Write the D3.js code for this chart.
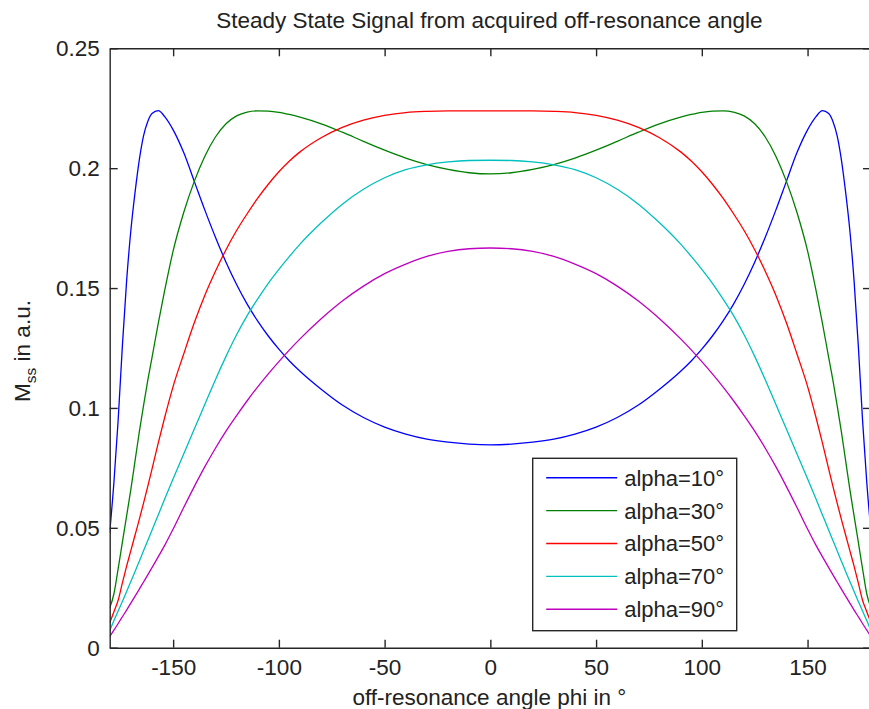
<!DOCTYPE html>
<html>
<head>
<meta charset="utf-8">
<script src="https://cdn.jsdelivr.net/npm/d3@7"></script>
<style>
  html, body { margin: 0; padding: 0; background: #fff; }
  svg { display: block; }
  text { font-family: "Liberation Sans", Arial, sans-serif; fill: #222; }
</style>
</head>
<body>
<svg id="chart" width="869" height="709"></svg>
<script>
// ---- data ----
const phi = [-180,-178,-176,-174,-172,-170,-168,-166,-164,-162,-160,-157,-154,-150,-145,-140,-135,-130,-125,-120,-115,-110,-105,-100,-95,-90,-80,-70,-60,-50,-40,-30,-20,-10,0,
             10,20,30,40,50,60,70,80,90,95,100,105,110,115,120,125,130,135,140,145,150,154,157,160,162,164,166,168,170,172,174,176,178,180];

const alpha10 = [0.048,0.069,0.095,0.126,0.153,0.174,0.190,0.2035,0.2135,0.2195,0.2228,0.2240,0.2215,0.2160,0.2065,0.1945,0.1825,0.1712,0.1608,0.1515,0.1433,0.1362,0.1300,0.1245,0.1196,0.1153,0.1078,0.1012,0.0960,0.0920,0.0891,0.0870,0.0857,0.0849,0.0846,
                 0.0849,0.0857,0.0870,0.0891,0.0920,0.0960,0.1012,0.1078,0.1153,0.1196,0.1245,0.1300,0.1362,0.1433,0.1515,0.1608,0.1712,0.1825,0.1945,0.2065,0.2160,0.2215,0.2240,0.2228,0.2195,0.2135,0.2035,0.190,0.174,0.153,0.126,0.095,0.069,0.048];

const alpha30 = [0.0165,0.0225,0.033,0.044,0.055,0.066,0.078,0.090,0.101,0.1115,0.121,0.1355,0.149,0.1655,0.1815,0.1945,0.2050,0.2130,0.2185,0.2218,0.2234,0.2239,0.2238,0.2233,0.2224,0.2213,0.2185,0.2150,0.2112,0.2075,0.2042,0.2015,0.1995,0.1981,0.1976,
                 0.1981,0.1995,0.2015,0.2042,0.2075,0.2112,0.2150,0.2185,0.2213,0.2224,0.2233,0.2238,0.2239,0.2234,0.2218,0.2185,0.2130,0.2050,0.1945,0.1815,0.1655,0.149,0.1355,0.121,0.1115,0.101,0.090,0.078,0.066,0.055,0.044,0.033,0.0225,0.0165];

const alpha50 = [0.0103,0.0150,0.0198,0.0270,0.0340,0.0405,0.0470,0.0535,0.0603,0.0673,0.0745,0.0855,0.0960,0.1090,0.1225,0.1355,0.1470,0.1570,0.1660,0.1740,0.1810,0.1875,0.1933,0.1985,0.2030,0.2068,0.2127,0.2170,0.2200,0.2220,0.2232,0.2237,0.2239,0.2239,0.2239,
                 0.2239,0.2239,0.2237,0.2232,0.2220,0.2200,0.2170,0.2127,0.2068,0.2030,0.1985,0.1933,0.1875,0.1810,0.1740,0.1660,0.1570,0.1470,0.1355,0.1225,0.1090,0.0960,0.0855,0.0745,0.0673,0.0603,0.0535,0.0470,0.0405,0.0340,0.0270,0.0198,0.0150,0.0103];

const alpha70 = [0.0070,0.0113,0.0153,0.0193,0.0234,0.0276,0.0318,0.0361,0.0404,0.0447,0.0490,0.0555,0.0620,0.0705,0.0808,0.0912,0.1015,0.1118,0.1215,0.1305,0.1385,0.1455,0.1520,0.1578,0.1632,0.1683,0.1772,0.1850,0.1912,0.1960,0.1994,0.2014,0.2026,0.2032,0.2033,
                 0.2032,0.2026,0.2014,0.1994,0.1960,0.1912,0.1850,0.1772,0.1683,0.1632,0.1578,0.1520,0.1455,0.1385,0.1305,0.1215,0.1118,0.1015,0.0912,0.0808,0.0705,0.0620,0.0555,0.0490,0.0447,0.0404,0.0361,0.0318,0.0276,0.0234,0.0193,0.0153,0.0113,0.0070];

const alpha90 = [0.0046,0.0073,0.0101,0.0129,0.0157,0.0186,0.0215,0.0244,0.0274,0.0304,0.0334,0.0380,0.0427,0.0495,0.0585,0.0672,0.0755,0.0832,0.0903,0.0968,0.1030,0.1088,0.1142,0.1193,0.1242,0.1288,0.1372,0.1446,0.1508,0.1560,0.1600,0.1632,0.1653,0.1664,0.1667,
                 0.1664,0.1653,0.1632,0.1600,0.1560,0.1508,0.1446,0.1372,0.1288,0.1242,0.1193,0.1142,0.1088,0.1030,0.0968,0.0903,0.0832,0.0755,0.0672,0.0585,0.0495,0.0427,0.0380,0.0334,0.0304,0.0274,0.0244,0.0215,0.0186,0.0157,0.0129,0.0101,0.0073,0.0046];

const seriesNames = ["alpha=10°","alpha=30°","alpha=50°","alpha=70°","alpha=90°"];
const seriesColors = ["#0000ff","#008000","#ff0000","#00bfbf","#bf00bf"];
const seriesValues = [alpha10, alpha30, alpha50, alpha70, alpha90];

const xTicks = [-150,-100,-50,0,50,100,150];
const xTickLabels = ["-150","-100","-50","0","50","100","150"];
const yTicks = [0,0.05,0.1,0.15,0.2,0.25];
const yTickLabels = ["0","0.05","0.1","0.15","0.2","0.25"];

const titleText = "Steady State Signal from acquired off-resonance angle";
const xLabelText = "off-resonance angle phi in °";

// ---- layout ----
const svg = d3.select("#chart");
const L = 109.7, R = 871, T = 48.3, B = 647.7;
const x = d3.scaleLinear().domain([-180,180]).range([L,R]);
const y = d3.scaleLinear().domain([0,0.25]).range([B,T]);
const fs = 22.5;
const axisColor = "#262626";

svg.append("defs").append("clipPath").attr("id","clip")
  .append("rect").attr("x",L).attr("y",T).attr("width",R-L).attr("height",B-T);

// curves
const line = d3.line().x(d => x(d[0])).y(d => y(d[1])).curve(d3.curveMonotoneX);
const plot = svg.append("g").attr("clip-path","url(#clip)");
seriesValues.forEach((vals,i) => {
  plot.append("path")
    .datum(phi.map((p,j) => [p, vals[j]]))
    .attr("d", line)
    .attr("fill","none")
    .attr("stroke", seriesColors[i])
    .attr("stroke-width", 1.3);
});

// axes (MATLAB style: inward ticks, box)
const tickLen = 8;
const axB = svg.append("g").attr("transform",`translate(0,${B})`)
  .call(d3.axisBottom(x).tickValues(xTicks).tickSizeInner(-tickLen).tickSizeOuter(0).tickFormat((d,i) => xTickLabels[i]));
const axT = svg.append("g").attr("transform",`translate(0,${T})`)
  .call(d3.axisTop(x).tickValues(xTicks).tickSizeInner(-tickLen).tickSizeOuter(0).tickFormat(""));
const axL = svg.append("g").attr("transform",`translate(${L},0)`)
  .call(d3.axisLeft(y).tickValues(yTicks).tickSizeInner(-tickLen).tickSizeOuter(0).tickFormat((d,i) => yTickLabels[i]));
const axR = svg.append("g").attr("transform",`translate(${R},0)`)
  .call(d3.axisRight(y).tickValues(yTicks).tickSizeInner(-tickLen).tickSizeOuter(0).tickFormat(""));

[axB,axT,axL,axR].forEach(g => {
  g.select(".domain").attr("stroke",axisColor).attr("stroke-width",1.4);
  g.selectAll(".tick line").attr("stroke",axisColor).attr("stroke-width",1.4);
  g.selectAll(".tick text").attr("font-size",fs).attr("font-family",'"Liberation Sans", Arial, sans-serif').attr("fill","#222");
});
axB.selectAll(".tick text").attr("y", 11).attr("dy","0.71em");
axL.selectAll(".tick text").attr("x", -10).attr("dy","0.34em");

// title
svg.append("text").attr("x",(L+R)/2 - 1).attr("y",28).attr("text-anchor","middle")
  .attr("font-size",fs).text(titleText);

// x label
svg.append("text").attr("x",(L+R)/2 - 1).attr("y",705).attr("text-anchor","middle")
  .attr("font-size",fs).text(xLabelText);

// y label with subscript
const yl = svg.append("text").attr("transform","translate(30,351) rotate(-90)")
  .attr("text-anchor","middle").attr("font-size",fs);
yl.append("tspan").text("M");
yl.append("tspan").attr("font-size",15.5).attr("dy",6).text("ss");
yl.append("tspan").attr("dy",-6).text(" in a.u.");

// legend
const lg = svg.append("g");
const lgX = 532.7, lgY = 458.3, lgW = 204, lgH = 172.4;
lg.append("rect").attr("x",lgX).attr("y",lgY).attr("width",lgW).attr("height",lgH)
  .attr("fill","#fff").attr("stroke",axisColor).attr("stroke-width",1.4);
seriesNames.forEach((name,i) => {
  const yy = lgY + 19.4 + i*32.9;
  lg.append("line").attr("x1",lgX+13.5).attr("x2",lgX+84.5).attr("y1",yy).attr("y2",yy)
    .attr("stroke",seriesColors[i]).attr("stroke-width",1.4);
  lg.append("text").attr("x",lgX+91.5).attr("y",yy).attr("dy","0.36em")
    .attr("font-size",22).text(name);
});
</script>
</body>
</html>
